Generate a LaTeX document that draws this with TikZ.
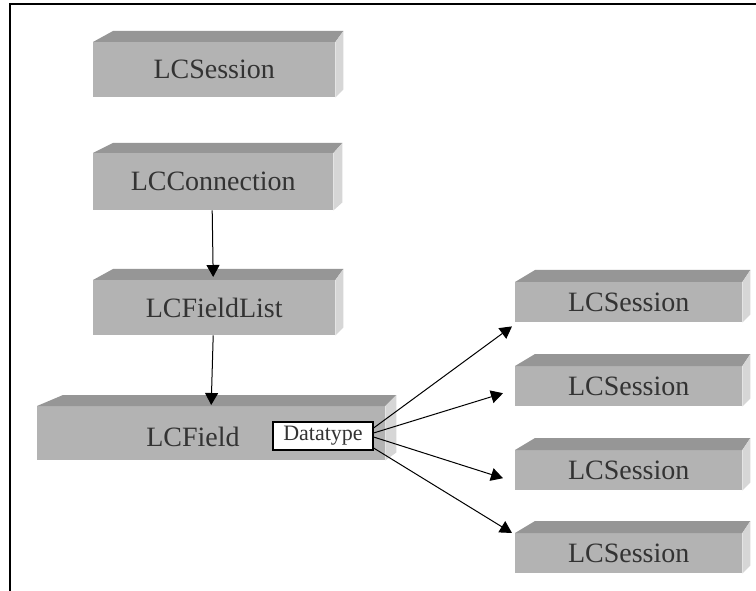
\documentclass[tikz,border=0pt]{standalone}
\usepackage{fontspec}
\setmainfont{Liberation Serif}
\usetikzlibrary{arrows.meta}
\definecolor{frontgray}{HTML}{B3B3B3}
\definecolor{topgray}{HTML}{969696}
\definecolor{sidegray}{HTML}{D6D6D6}
\definecolor{txtgray}{HTML}{333333}
\tikzset{
  front/.style={fill=frontgray, draw=none, inner sep=0pt, anchor=north west,
    text=txtgray, font=\fontsize{28}{30}\selectfont},
  lbl/.style={inner sep=0pt, text=txtgray, font=\fontsize{28}{30}\selectfont},
  dtbox/.style={draw=black, line width=1.2pt, fill=white, inner sep=0pt,
    minimum width=100pt, minimum height=28pt, text=txtgray, font=\fontsize{22}{24}\selectfont},
  conn/.style={line width=1pt, -{Triangle[length=12pt,width=13pt]}},
  frameline/.style={line width=1.6pt}
}
% \slab{name}{x}{y}{w}{h}{leftoff}{rightoff}{depth}{text}
\newcommand{\slab}[9]{%
  \node[front, minimum width=#4pt, minimum height=#5pt] (#1) at (#2,#3) {#9};
  \fill[topgray] (#1.north west) -- ++(#6,-#8) -- ([shift={(#7pt,#8pt)}]#1.north east) -- (#1.north east) -- cycle;
  \fill[sidegray] (#1.north east) -- ([shift={(#7pt,#8pt)}]#1.north east) -- ([shift={(#7pt,8pt)}]#1.south east) -- (#1.south east) -- cycle;
}
\begin{document}
\begin{tikzpicture}[x=1pt,y=-1pt]
\useasboundingbox (0,0) rectangle (756,591);
\fill[white] (0,0) rectangle (756,591);
\draw[frameline] (10,591) -- (10,4) -- (756,4);

\slab{s1}{93}{42}{242}{55}{20}{8}{11}{LCSession}
\slab{conn}{93}{153}{240}{57}{20}{9}{10}{LCConnection}
\slab{flist}{93}{280}{242}{55}{20}{8}{11}{LCFieldList}
\slab{field}{37}{406}{348}{54}{26}{11}{11}{}
\node[lbl] (fieldt) at (193,437) {LCField};
\node[dtbox] (dt) at (323,436) {Datatype};

\slab{r1}{515}{282}{227}{40}{20}{8}{12}{LCSession}
\slab{r2}{515}{366}{227}{40}{20}{8}{12}{LCSession}
\slab{r3}{515}{450}{227}{40}{20}{8}{12}{LCSession}
\slab{r4}{515}{533}{227}{40}{20}{8}{12}{LCSession}

\draw[conn] ([xshift=-1pt]conn.south) -- ([xshift=-1pt,yshift=3pt]flist.north);
\draw[conn] ([xshift=-1pt]flist.south) -- ([xshift=0pt,yshift=1pt]field.north);

\draw[conn] ([yshift=8pt]dt.east) -- ([shift={(-3pt,-4pt)}]r1.south west);
\draw[conn] ([yshift=3pt]dt.east) -- ([shift={(-12pt,-7pt)}]r2.west);
\draw[conn] ([yshift=-1pt]dt.east) -- ([shift={(-12pt,-8pt)}]r3.west);
\draw[conn] ([yshift=-12pt]dt.east) -- ([shift={(-3pt,0pt)}]r4.north west);
\end{tikzpicture}
\end{document}
